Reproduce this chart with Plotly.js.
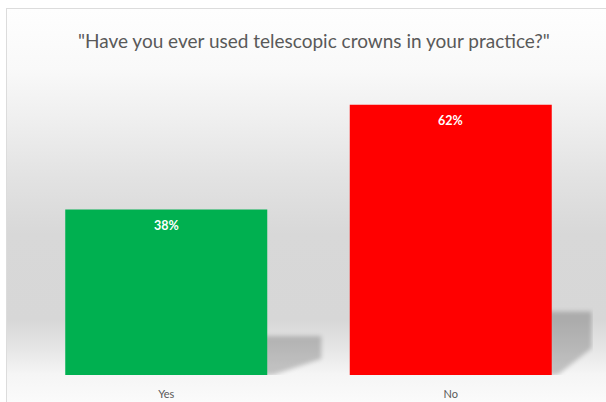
<!DOCTYPE html>
<html>
<head>
<meta charset="utf-8">
<script src="https://cdn.plot.ly/plotly-3.0.1.min.js"></script>
<style>
  html, body { margin: 0; padding: 0; width: 606px; height: 402px; overflow: hidden; background: #ffffff; }
  #frame {
    position: absolute; left: 6px; top: 8px; width: 640px; height: 420px;
    border: 1px solid #dcdcdc; box-sizing: border-box;
    background: linear-gradient(to bottom,
      #fefefe 0px, #f9f9f9 60px, #efefef 110px, #e2e2e2 170px,
      #d8d8d8 225px, #d7d7d7 310px, #e6e6e6 340px, #f5f5f5 365px, #fbfbfb 394px);
  }
  #chart { position: absolute; left: 0; top: 0; width: 606px; height: 402px; }
</style>
</head>
<body>
<svg width="0" height="0" style="position:absolute">
  <defs>
    <filter id="softshadow" x="-20%" y="-20%" width="140%" height="140%">
      <feGaussianBlur stdDeviation="2.2"/>
    </filter>
  </defs>
</svg>
<div id="frame"></div>
<div id="chart"></div>
<script>
const categories = ["Yes", "No"];
const values = [0.38, 0.62];
const barColors = ["#00B050", "#FF0000"];
const labels = values.map(v => Math.round(v * 100) + "%");

const halfBar = 0.355;
const xMax = 1.5;
const shadows = values.map((v, i) => {
  const xr = i + halfBar - 0.01;
  const top = v * 0.235;
  const right = Math.min(xr + 0.2, xMax - 0.005);
  return {
    type: "path", xref: "x", yref: "y", layer: "below",
    path: `M ${xr} 0 L ${xr} ${top} L ${right} ${top} L ${right} ${top * 0.42} L ${xr + 0.03} 0 Z`,
    fillcolor: "rgba(0,0,0,0.2)", line: {width: 0}
  };
});

const annotations = values.map((v, i) => ({
  x: categories[i], y: v, xref: "x", yref: "y",
  text: "<b>" + labels[i] + "</b>", showarrow: false,
  yanchor: "middle", yshift: -16,
  font: {family: "Lato, 'Open Sans', sans-serif", size: 12.5, color: "#ffffff"}
}));

const trace = {
  type: "bar", x: categories, y: values,
  marker: {color: barColors, line: {width: 0}},
  hoverinfo: "skip"
};

const layout = {
  width: 606, height: 402,
  margin: {l: 24, r: 13, t: 70, b: 27, pad: 0},
  paper_bgcolor: "rgba(0,0,0,0)", plot_bgcolor: "rgba(0,0,0,0)",
  showlegend: false,
  bargap: 0.29,
  title: {
    text: '"Have you ever used telescopic crowns in your practice?"',
    font: {family: "Lato, 'Open Sans', sans-serif", size: 19, color: "#595959"},
    x: 0.518, xanchor: "center", xref: "container",
    y: 0.896, yanchor: "middle", yref: "container"
  },
  xaxis: {
    type: "category", range: [-0.5, xMax], showline: false, showgrid: false, zeroline: false,
    ticks: "outside", ticklen: 9, tickcolor: "rgba(0,0,0,0)",
    tickfont: {family: "Lato, 'Open Sans', sans-serif", size: 11, color: "#595959"},
    fixedrange: true
  },
  yaxis: {
    range: [0, 0.7], visible: false, showgrid: false, zeroline: false, fixedrange: true
  },
  shapes: shadows,
  annotations: annotations
};

Plotly.newPlot("chart", [trace], layout, {displayModeBar: false, staticPlot: true}).then(() => {
  document.querySelectorAll("#chart path[data-index]").forEach(p => {
    p.setAttribute("filter", "url(#softshadow)");
    p.style.filter = "blur(2px)";
  });
});
</script>
</body>
</html>
